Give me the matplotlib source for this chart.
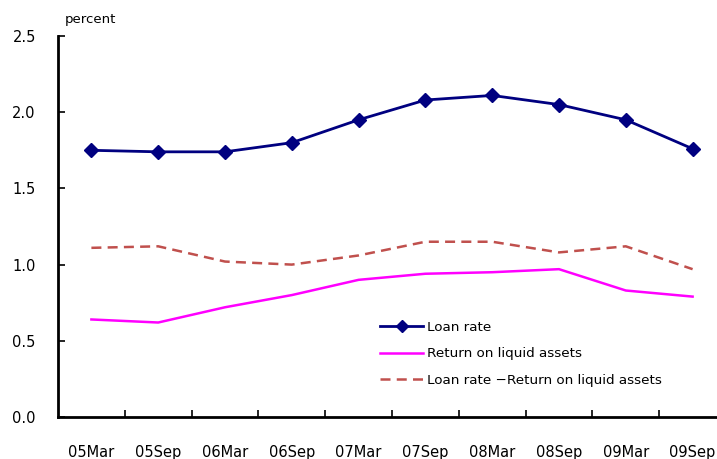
import matplotlib
matplotlib.use("Agg")
import matplotlib.pyplot as plt
import numpy as np

periods = ["05Mar", "05Sep", "06Mar", "06Sep", "07Mar",
           "07Sep", "08Mar", "08Sep", "09Mar", "09Sep"]
loan_rate = [1.75, 1.74, 1.74, 1.80, 1.95, 2.08, 2.11, 2.05, 1.95, 1.76]
liquid_return = [0.64, 0.62, 0.72, 0.80, 0.90, 0.94, 0.95, 0.97, 0.83, 0.79]
spread = [1.11, 1.12, 1.02, 1.00, 1.06, 1.15, 1.15, 1.08, 1.12, 0.97]

plt.rcParams["font.family"] = ["DejaVu Sans"]

fig = plt.figure(figsize=(7.17, 4.59), dpi=100)
ax = fig.add_axes([58 / 717, 1 - 417 / 459, 668 / 717, 381 / 459])

x = np.arange(len(periods))
ax.plot(x, loan_rate, color="#000080", linewidth=2.0, marker="D",
        markersize=7.5, label="Loan rate")
ax.plot(x, liquid_return, color="#FF00FF", linewidth=1.8,
        label="Return on liquid assets")
ax.plot(x, spread, color="#C0504D", linewidth=1.8, linestyle=(0, (4, 2.5)),
        label="Loan rate \u2212Return on liquid assets")

ax.set_xlim(-0.5, len(periods) - 0.5)
ax.set_ylim(0, 2.5)
ax.set_yticks(np.arange(0, 2.51, 0.5))
ax.set_yticklabels([f"{v:.1f}" for v in np.arange(0, 2.51, 0.5)], fontsize=10.5)

# category labels centred, tick marks on the boundaries between them
ax.set_xticks(np.arange(0.5, len(periods) - 0.5, 1))
ax.set_xticklabels([])
ax.set_xticks(x, minor=True)
ax.set_xticklabels(periods, minor=True, fontsize=10.5)
ax.tick_params(axis="x", which="minor", length=0, pad=20)
ax.tick_params(axis="x", which="major", direction="in", length=5, width=1.2)
ax.tick_params(axis="y", direction="in", length=5, width=1.2, pad=16)

for side in ("top", "right"):
    ax.spines[side].set_visible(False)
for side in ("left", "bottom"):
    ax.spines[side].set_linewidth(2.0)

fig.text(65 / 717, 1 - 20 / 459, "percent", fontsize=9.5, va="center", ha="left")

ax.legend(loc="upper left", bbox_to_anchor=(380 / 717, 1 - 321 / 459),
          bbox_transform=fig.transFigure, frameon=False, fontsize=9.7,
          handlelength=3.2, handletextpad=0.3, labelspacing=1.0,
          borderaxespad=0, borderpad=0, markerscale=0.75)

fig.savefig("out.png", dpi=100)
